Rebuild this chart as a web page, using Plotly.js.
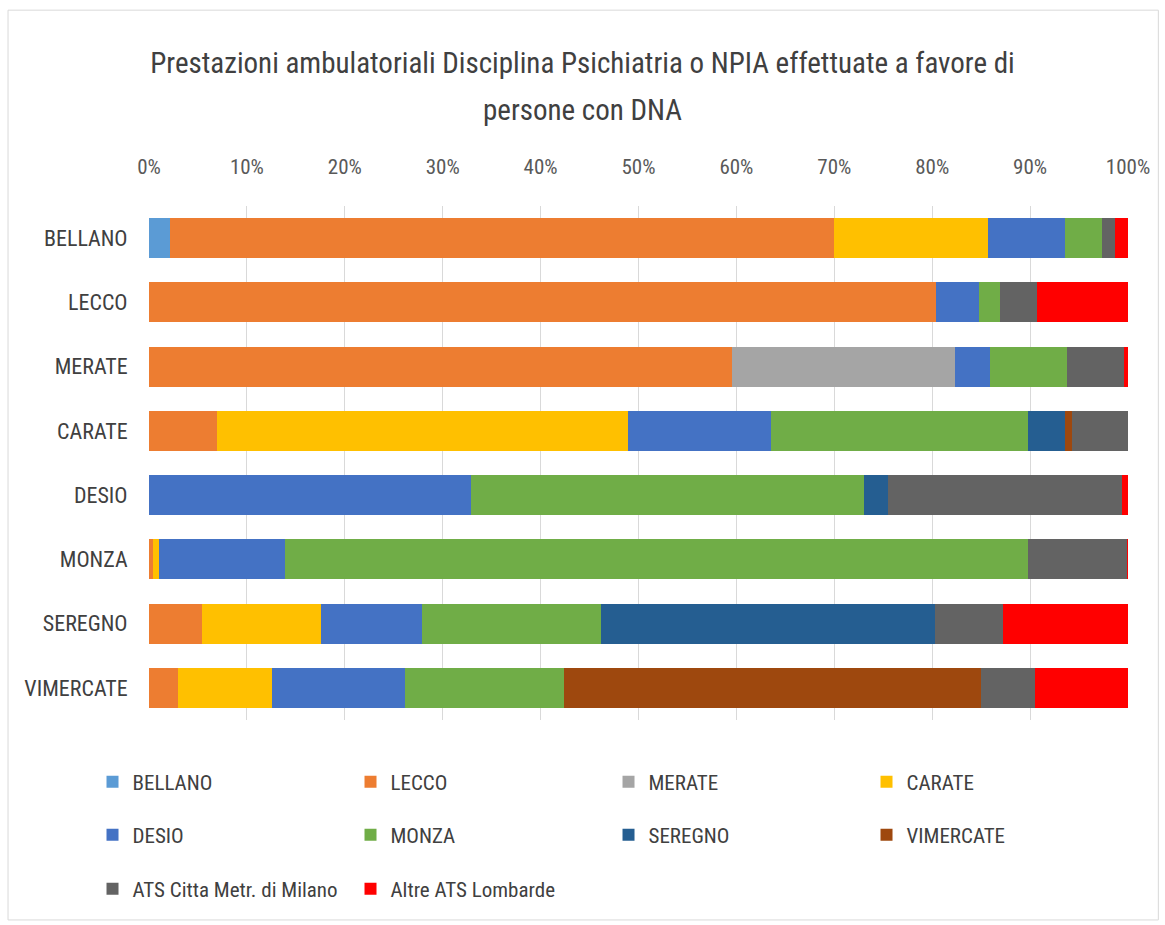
<!DOCTYPE html>
<html>
<head>
<meta charset="utf-8">
<script src="https://cdn.plot.ly/plotly-3.0.1.min.js"></script>
<style>
html,body{margin:0;padding:0;background:#fff;}
#chart{width:1165px;height:925px;}
</style>
</head>
<body>
<div id="chart"></div>
<script>
const categories = ["BELLANO","LECCO","MERATE","CARATE","DESIO","MONZA","SEREGNO","VIMERCATE"];
const tickLabels = ["0%","10%","20%","30%","40%","50%","60%","70%","80%","90%","100%"];
const tickValues = [0,10,20,30,40,50,60,70,80,90,100];
const titleLine1 = "Prestazioni ambulatoriali Disciplina Psichiatria o NPIA effettuate a favore di";
const titleLine2 = "persone con DNA";

const seriesNames = ["BELLANO","LECCO","MERATE","CARATE","DESIO","MONZA","SEREGNO","VIMERCATE","ATS Citta Metr. di Milano","Altre ATS Lombarde"];
const seriesColors = ["#5B9BD5","#ED7D31","#A5A5A5","#FFC000","#4472C4","#70AD47","#255E91","#9E480E","#636363","#FF0000"];
const seriesLegend = ["legend","legend","legend","legend","legend2","legend2","legend2","legend2","legend3","legend3"];

const valBellano   = [2.1, 0,    0,    0,    0,    0,    0,    0];
const valLecco     = [67.9,80.4, 59.6, 6.9,  0,    0.4,  5.4,  3.0];
const valMerate    = [0,   0,    22.7, 0,    0,    0,    0,    0];
const valCarate    = [15.7,0,    0,    42.0, 0,    0.6,  12.2, 9.6];
const valDesio     = [7.9, 4.4,  3.6,  14.6, 32.9, 12.9, 10.3, 13.5];
const valMonza     = [3.7, 2.1,  7.9,  26.3, 40.1, 75.9, 18.3, 16.3];
const valSeregno   = [0,   0,    0,    3.8,  2.5,  0,    34.1, 0];
const valVimercate = [0,   0,    0,    0.7,  0,    0,    0,    42.6];
const valAts       = [1.4, 3.8,  5.8,  5.7,  23.9, 10.1, 6.9,  5.5];
const valAltre     = [1.3, 9.3,  0.4,  0,    0.6,  0.1,  12.8, 9.5];

const seriesValues = [valBellano,valLecco,valMerate,valCarate,valDesio,valMonza,valSeregno,valVimercate,valAts,valAltre];

const FONT = '"Liberation Sans Narrow", "Arial Narrow", "Roboto Condensed", "Liberation Sans", sans-serif';

const traces = seriesNames.map((n,i)=>({
  type:'bar',
  orientation:'h',
  name:n,
  legend:seriesLegend[i],
  y:categories,
  x:seriesValues[i],
  marker:{color:seriesColors[i], line:{width:0}},
  hoverinfo:'name+x'
}));

function legendRow(yPaper){
  return {
    orientation:'h',
    x:-0.0577, xanchor:'left',
    y:yPaper, yanchor:'middle',
    traceorder:'normal',
    entrywidth:213, entrywidthmode:'pixels',
    font:{family:FONT, size:21, color:'#404040'},
    itemwidth:30,
    bgcolor:'rgba(0,0,0,0)'
  };
}

const layout = {
  width:1165, height:925,
  paper_bgcolor:'#fff', plot_bgcolor:'#fff',
  margin:{l:149, r:37, t:206, b:205},
  barmode:'stack',
  bargap:0.38,
  showlegend:true,
  font:{family:FONT, color:'#595959', size:21},
  title:{
    text:titleLine1,
    font:{family:FONT, size:29, color:'#404040'},
    x:0.5, xref:'container', xanchor:'center',
    y:1 - 63/925, yref:'container', yanchor:'middle'
  },
  annotations:[{
    text:titleLine2, showarrow:false,
    xref:'paper', yref:'paper',
    x:(582-149)/979, xanchor:'center',
    y:(720-110)/514, yanchor:'middle',
    font:{family:FONT, size:29, color:'#404040'}
  }],
  xaxis:{
    side:'top',
    range:[0,100],
    tickvals:tickValues,
    ticktext:tickLabels,
    showgrid:true, gridcolor:'#D9D9D9', gridwidth:1,
    zeroline:false, showline:false,
    ticks:'outside', ticklen:23, tickcolor:'rgba(0,0,0,0)',
    tickfont:{family:FONT, size:21, color:'#595959'},
    fixedrange:true
  },
  yaxis:{
    autorange:'reversed',
    type:'category',
    showgrid:false, zeroline:false, showline:false,
    ticks:'outside', ticklen:16, tickcolor:'rgba(0,0,0,0)',
    tickfont:{family:FONT, size:22, color:'#404040'},
    fixedrange:true
  },
  legend:legendRow((720-782)/514),
  legend2:legendRow((720-835)/514),
  legend3:legendRow((720-889)/514),
  shapes:[{
    type:'rect', xref:'paper', yref:'paper',
    x0:-0.144, x1:1.031, y0:-0.389, y1:1.381,
    line:{color:'#D9D9D9', width:1}, fillcolor:'rgba(0,0,0,0)', layer:'below'
  }]
};

Plotly.newPlot('chart', traces, layout, {displayModeBar:false, staticPlot:true});
</script>
</body>
</html>
